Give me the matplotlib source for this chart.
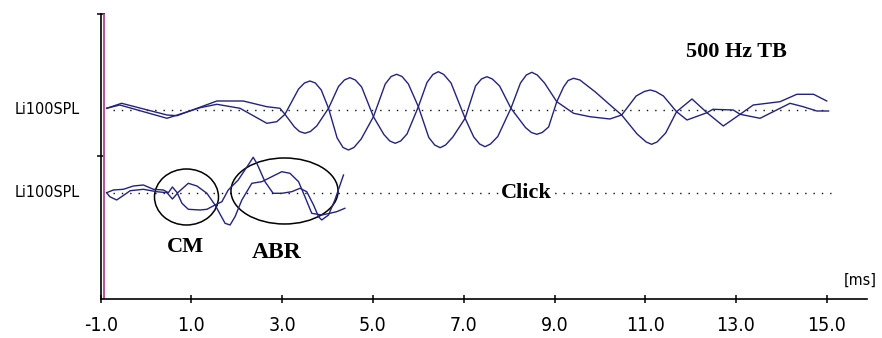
import matplotlib
matplotlib.use('Agg')
import matplotlib.pyplot as plt
from matplotlib.patches import Ellipse

# time axis in ms, amplitudes in arbitrary display units
# 500 Hz tone burst, two polarities
tb_a_t = [-0.87, -0.54, 0.46, 0.68, 1.56, 2.14, 2.66, 2.95,
          3.06, 3.27, 3.38, 3.50, 3.62, 3.76,
          4.02, 4.24, 4.37, 4.49, 4.61, 4.75,
          5.01, 5.24, 5.37, 5.49, 5.61, 5.75,
          6.00, 6.19, 6.32, 6.44, 6.56, 6.72,
          7.03, 7.22, 7.35, 7.47, 7.59, 7.75,
          8.04, 8.25, 8.38, 8.50, 8.62, 8.78,
          9.05, 9.42, 9.78, 10.22, 10.48, 10.80, 10.98, 11.11, 11.23, 11.40,
          11.69, 11.92, 12.36, 12.49, 12.94, 13.09,
          13.53, 13.82, 14.19, 14.48, 14.78, 15.04]
tb_a_amp = [1.7, 6.7, -5, -5.7, 9, 9, 3.3, 1.7,
            -4.3, -17, -21.5, -23.3, -21.5, -16,
            1.7, 23.5, 30, 32.3, 30, 23,
            -6.7, -24.5, -31, -33.3, -31, -24,
            3.3, 27.5, 35.5, 38.3, 35.5, 27,
            -8.3, -27, -34, -36.7, -34, -26.5,
            1.7, 27, 35, 37.7, 35, 27,
            8.3, -3.3, -6.7, -9, -5, 14, 18.5, 20, 18.5, 14,
            -1.7, -10, -2.7, 0.7, 0, -4.3,
            -8.3, -1.7, 6.7, 3.3, -1, -1]
tb_b_t = [-0.87, -0.58, 0.46, 1.19, 1.56, 2.07, 2.66, 2.88,
          3.06, 3.36, 3.49, 3.61, 3.73, 3.86,
          4.02, 4.21, 4.34, 4.46, 4.58, 4.74,
          5.01, 5.27, 5.40, 5.52, 5.64, 5.78,
          6.00, 6.23, 6.36, 6.48, 6.60, 6.76,
          7.03, 7.26, 7.39, 7.51, 7.63, 7.79,
          8.04, 8.36, 8.49, 8.61, 8.73, 8.87,
          9.05, 9.20, 9.30, 9.42, 9.56, 9.90, 10.20,
          10.48, 10.82, 11.02, 11.14, 11.26, 11.45,
          11.69, 12.03, 12.36, 12.72,
          13.09, 13.38, 13.97, 14.34, 14.71, 15.00]
tb_b_amp = [1.7, 5, -8.3, 2.3, 5.7, 1.7, -13.3, -11.7,
            -4.3, 21, 27, 29, 27, 20,
            1.7, -28, -37.5, -40, -37.5, -29,
            -6.7, 26, 33.5, 35.7, 33.5, 26,
            3.3, -27.5, -35, -37.7, -35, -27,
            -8.3, 24, 31, 33.3, 31, 24,
            1.7, -17.5, -22.5, -24.3, -22.5, -17,
            8.3, 23, 29.5, 31.7, 30, 18, 6,
            -5, -24, -32, -34.3, -32, -23,
            -1.7, 11, -2.7, -16,
            -4.3, 5, 8.3, 15.7, 15.7, 9]

# click, two polarities
click_a_t = [-0.87, -0.72, -0.50, -0.28, -0.06, 0.16, 0.38, 0.49, 0.58, 0.69, 0.93,
             1.12, 1.34, 1.52, 1.67, 1.81, 2.03, 2.25, 2.36, 2.44, 2.62, 2.80, 2.99,
             3.21, 3.39, 3.54, 3.69, 3.80, 3.87, 4.02, 4.16, 4.35]
click_a_amp = [0.3, 3, 3.7, 7, 8, 3.7, 3, 0.3, 6, 0, 9.7,
               7, -0.3, -12, -8.7, 3, 13, 28, 35.7, 29.7, 11.3, -0.3, -0.3,
               1.3, 4.7, 1.3, -12, -23.7, -27, -22, -7, 18]
click_b_t = [-0.87, -0.80, -0.65, -0.54, -0.35, -0.06, 0.23, 0.46, 0.58, 0.69, 0.79,
             0.93, 1.19, 1.34, 1.52, 1.74, 1.85, 1.96, 2.11, 2.33, 2.55, 2.77, 2.99,
             3.17, 3.36, 3.50, 3.65, 3.87, 4.05, 4.20, 4.38]
click_b_amp = [0.3, -3.7, -7, -3.7, 2.3, 3.7, 1.3, 0.3, -6, -0.3, -10.3,
               -16.3, -17, -16.3, -12, -30.3, -32, -23.7, -7, 9.7, 11.3, 16.3, 21.3,
               19.7, 11.3, -3.7, -20.3, -22, -20.3, -18.7, -15.3]

x_ticks = [-1.0, 1.0, 3.0, 5.0, 7.0, 9.0, 11.0, 13.0, 15.0]
channel_label = 'Li100SPL'

# channel baselines on the display scale
TB_BASE = 189
CLICK_BASE = 106
TRACE = '#23237d'

fig = plt.figure(figsize=(8.82, 3.38), dpi=100)
ax = fig.add_axes([0.1142, 0.1154, 0.8683, 0.8432])
ax.set_xlim(-1.0, 15.877)
ax.set_ylim(0, 285)

for t, a in [(tb_a_t, tb_a_amp), (tb_b_t, tb_b_amp)]:
    ax.plot(t, [TB_BASE + v for v in a], color=TRACE, lw=1.0)
for t, a in [(click_a_t, click_a_amp), (click_b_t, click_b_amp)]:
    ax.plot(t, [CLICK_BASE + v for v in a], color=TRACE, lw=1.0)

# dotted baselines
ax.plot([-0.72, 15.04], [TB_BASE, TB_BASE], color='#111111', lw=1.0,
        linestyle=(0, (1, 5)), zorder=1)
ax.plot([-0.72, 15.1], [CLICK_BASE, CLICK_BASE], color='#111111', lw=1.0,
        linestyle=(0, (1, 5)), zorder=1)

# stimulus onset marker
ax.axvline(-0.92, color='#b8509a', lw=1.4)

# circled regions
ax.add_patch(Ellipse((0.89, 102), 1.41, 56, fill=False, ec='black', lw=1.1))
ax.add_patch(Ellipse((3.05, 108), 2.36, 66, fill=False, ec='black', lw=1.1))

serif = dict(family='Liberation Serif', fontweight='bold', color='black')
ax.text(13.02, 247, '500 Hz TB', fontsize=16, ha='center', va='center', **serif)
ax.text(8.37, CLICK_BASE, 'Click', fontsize=16, ha='center', va='center',
        bbox=dict(fc='white', ec='none', pad=0.5), **serif)
ax.text(0.86, 52, 'CM', fontsize=16, ha='center', va='center', **serif)
ax.text(2.88, 46, 'ABR', fontsize=17, ha='center', va='center', **serif)

narrow = dict(family='DejaVu Sans', fontstretch='condensed')
for base in (TB_BASE, CLICK_BASE):
    ax.text(-1.46, base, channel_label, fontsize=11.5, ha='right', va='center',
            clip_on=False, **narrow)
ax.text(16.11, 19, '[ms]', fontsize=11.5, ha='right', va='center',
        clip_on=False, **narrow)

ax.spines['top'].set_visible(False)
ax.spines['right'].set_visible(False)
ax.spines['left'].set_linewidth(1.2)
ax.spines['bottom'].set_linewidth(1.2)

ax.set_xticks(x_ticks)
ax.set_xticklabels(['%.1f' % v for v in x_ticks], fontsize=14, **narrow)
ax.set_yticks([143, 285])
ax.set_yticklabels([])
ax.tick_params(axis='x', direction='inout', length=6, width=1.1, pad=9)
ax.tick_params(axis='y', direction='inout', length=6, width=1.1)

fig.savefig('out.png', dpi=100)
